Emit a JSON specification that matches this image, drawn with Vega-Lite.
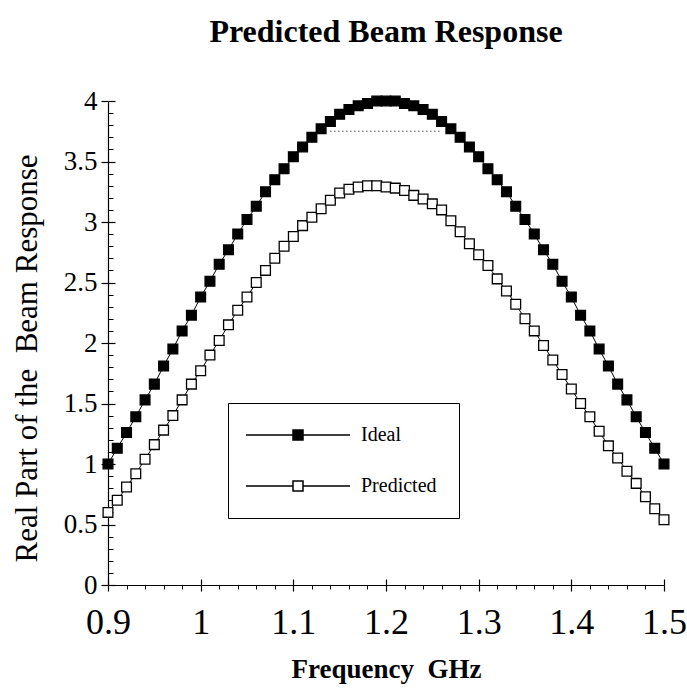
{
  "$schema": "https://vega.github.io/schema/vega-lite/v6.json",
  "width": 556,
  "height": 484,
  "autosize": "none",
  "padding": {"left": 108, "top": 101, "right": 23, "bottom": 108},
  "background": "white",
  "title": {"text": "Predicted Beam Response", "font": "Liberation Serif", "fontSize": 32, "fontWeight": "bold", "color": "black", "anchor": "middle", "offset": 38},
  "datasets": {
    "beam": [
      {"f":0.90,"v":1.00,"s":"Ideal"},{"f":0.91,"v":1.13,"s":"Ideal"},{"f":0.92,"v":1.26,"s":"Ideal"},{"f":0.93,"v":1.39,"s":"Ideal"},{"f":0.94,"v":1.53,"s":"Ideal"},
      {"f":0.95,"v":1.66,"s":"Ideal"},{"f":0.96,"v":1.81,"s":"Ideal"},{"f":0.97,"v":1.95,"s":"Ideal"},{"f":0.98,"v":2.10,"s":"Ideal"},{"f":0.99,"v":2.23,"s":"Ideal"},
      {"f":1.00,"v":2.38,"s":"Ideal"},{"f":1.01,"v":2.51,"s":"Ideal"},{"f":1.02,"v":2.65,"s":"Ideal"},{"f":1.03,"v":2.77,"s":"Ideal"},{"f":1.04,"v":2.90,"s":"Ideal"},
      {"f":1.05,"v":3.02,"s":"Ideal"},{"f":1.06,"v":3.13,"s":"Ideal"},{"f":1.07,"v":3.25,"s":"Ideal"},{"f":1.08,"v":3.35,"s":"Ideal"},{"f":1.09,"v":3.44,"s":"Ideal"},
      {"f":1.10,"v":3.54,"s":"Ideal"},{"f":1.11,"v":3.62,"s":"Ideal"},{"f":1.12,"v":3.70,"s":"Ideal"},{"f":1.13,"v":3.77,"s":"Ideal"},{"f":1.14,"v":3.83,"s":"Ideal"},
      {"f":1.15,"v":3.89,"s":"Ideal"},{"f":1.16,"v":3.93,"s":"Ideal"},{"f":1.17,"v":3.96,"s":"Ideal"},{"f":1.18,"v":3.98,"s":"Ideal"},{"f":1.19,"v":4.00,"s":"Ideal"},
      {"f":1.20,"v":4.00,"s":"Ideal"},{"f":1.21,"v":4.00,"s":"Ideal"},{"f":1.22,"v":3.98,"s":"Ideal"},{"f":1.23,"v":3.96,"s":"Ideal"},{"f":1.24,"v":3.93,"s":"Ideal"},
      {"f":1.25,"v":3.89,"s":"Ideal"},{"f":1.26,"v":3.83,"s":"Ideal"},{"f":1.27,"v":3.77,"s":"Ideal"},{"f":1.28,"v":3.70,"s":"Ideal"},{"f":1.29,"v":3.62,"s":"Ideal"},
      {"f":1.30,"v":3.54,"s":"Ideal"},{"f":1.31,"v":3.44,"s":"Ideal"},{"f":1.32,"v":3.35,"s":"Ideal"},{"f":1.33,"v":3.25,"s":"Ideal"},{"f":1.34,"v":3.13,"s":"Ideal"},
      {"f":1.35,"v":3.02,"s":"Ideal"},{"f":1.36,"v":2.90,"s":"Ideal"},{"f":1.37,"v":2.77,"s":"Ideal"},{"f":1.38,"v":2.65,"s":"Ideal"},{"f":1.39,"v":2.51,"s":"Ideal"},
      {"f":1.40,"v":2.38,"s":"Ideal"},{"f":1.41,"v":2.23,"s":"Ideal"},{"f":1.42,"v":2.10,"s":"Ideal"},{"f":1.43,"v":1.95,"s":"Ideal"},{"f":1.44,"v":1.81,"s":"Ideal"},
      {"f":1.45,"v":1.66,"s":"Ideal"},{"f":1.46,"v":1.53,"s":"Ideal"},{"f":1.47,"v":1.39,"s":"Ideal"},{"f":1.48,"v":1.26,"s":"Ideal"},{"f":1.49,"v":1.13,"s":"Ideal"},
      {"f":1.50,"v":1.00,"s":"Ideal"},
      {"f":0.90,"v":0.60,"s":"Predicted"},{"f":0.91,"v":0.70,"s":"Predicted"},{"f":0.92,"v":0.81,"s":"Predicted"},{"f":0.93,"v":0.92,"s":"Predicted"},{"f":0.94,"v":1.04,"s":"Predicted"},
      {"f":0.95,"v":1.16,"s":"Predicted"},{"f":0.96,"v":1.28,"s":"Predicted"},{"f":0.97,"v":1.40,"s":"Predicted"},{"f":0.98,"v":1.53,"s":"Predicted"},{"f":0.99,"v":1.66,"s":"Predicted"},
      {"f":1.00,"v":1.77,"s":"Predicted"},{"f":1.01,"v":1.90,"s":"Predicted"},{"f":1.02,"v":2.02,"s":"Predicted"},{"f":1.03,"v":2.15,"s":"Predicted"},{"f":1.04,"v":2.27,"s":"Predicted"},
      {"f":1.05,"v":2.38,"s":"Predicted"},{"f":1.06,"v":2.50,"s":"Predicted"},{"f":1.07,"v":2.60,"s":"Predicted"},{"f":1.08,"v":2.70,"s":"Predicted"},{"f":1.09,"v":2.80,"s":"Predicted"},
      {"f":1.10,"v":2.88,"s":"Predicted"},{"f":1.11,"v":2.97,"s":"Predicted"},{"f":1.12,"v":3.04,"s":"Predicted"},{"f":1.13,"v":3.11,"s":"Predicted"},{"f":1.14,"v":3.18,"s":"Predicted"},
      {"f":1.15,"v":3.24,"s":"Predicted"},{"f":1.16,"v":3.27,"s":"Predicted"},{"f":1.17,"v":3.29,"s":"Predicted"},{"f":1.18,"v":3.30,"s":"Predicted"},{"f":1.19,"v":3.30,"s":"Predicted"},
      {"f":1.20,"v":3.29,"s":"Predicted"},{"f":1.21,"v":3.28,"s":"Predicted"},{"f":1.22,"v":3.26,"s":"Predicted"},{"f":1.23,"v":3.22,"s":"Predicted"},{"f":1.24,"v":3.19,"s":"Predicted"},
      {"f":1.25,"v":3.15,"s":"Predicted"},{"f":1.26,"v":3.10,"s":"Predicted"},{"f":1.27,"v":3.01,"s":"Predicted"},{"f":1.28,"v":2.92,"s":"Predicted"},{"f":1.29,"v":2.82,"s":"Predicted"},
      {"f":1.30,"v":2.73,"s":"Predicted"},{"f":1.31,"v":2.64,"s":"Predicted"},{"f":1.32,"v":2.53,"s":"Predicted"},{"f":1.33,"v":2.43,"s":"Predicted"},{"f":1.34,"v":2.32,"s":"Predicted"},
      {"f":1.35,"v":2.20,"s":"Predicted"},{"f":1.36,"v":2.10,"s":"Predicted"},{"f":1.37,"v":1.98,"s":"Predicted"},{"f":1.38,"v":1.86,"s":"Predicted"},{"f":1.39,"v":1.74,"s":"Predicted"},
      {"f":1.40,"v":1.62,"s":"Predicted"},{"f":1.41,"v":1.50,"s":"Predicted"},{"f":1.42,"v":1.39,"s":"Predicted"},{"f":1.43,"v":1.27,"s":"Predicted"},{"f":1.44,"v":1.15,"s":"Predicted"},
      {"f":1.45,"v":1.05,"s":"Predicted"},{"f":1.46,"v":0.94,"s":"Predicted"},{"f":1.47,"v":0.84,"s":"Predicted"},{"f":1.48,"v":0.73,"s":"Predicted"},{"f":1.49,"v":0.63,"s":"Predicted"},
      {"f":1.50,"v":0.54,"s":"Predicted"}
    ],
    "dotted": [{"f1": 1.14, "f2": 1.26, "y": 3.75}]
  },
  "layer": [
    {
      "data": {"name": "beam"},
      "mark": {"type": "line", "color": "black", "strokeWidth": 1},
      "encoding": {
        "x": {"field": "f", "type": "quantitative", "scale": {"domain": [0.9, 1.5], "nice": false, "zero": false},
          "axis": {"orient": "bottom", "values": [0.9, 1.0, 1.1, 1.2, 1.3, 1.4, 1.5], "format": ".1~f", "labelFlush": false, "labelOverlap": false, "tickSize": 6, "tickWidth": 1.2, "domainWidth": 1.2, "labelFontSize": 36, "labelPadding": 14, "title": "Frequency\u00a0\u00a0GHz", "titleFontSize": 27, "titleFontWeight": "bold", "titlePadding": 16}},
        "y": {"field": "v", "type": "quantitative", "scale": {"domain": [0, 4], "nice": false},
          "axis": {"orient": "left", "values": [0, 0.5, 1, 1.5, 2, 2.5, 3, 3.5, 4], "format": ".1~f", "labelFlush": false, "tickSize": 7, "tickWidth": 1.2, "domainWidth": 1.2, "labelFontSize": 27, "labelPadding": 4, "title": "Real Part of the\u00a0\u00a0Beam Response", "titleFontSize": 31, "titleFontWeight": "normal", "titlePadding": 20, "titleY": 257}},
        "detail": {"field": "s"}
      }
    },
    {
      "data": {"name": "beam"},
      "mark": {"type": "point", "shape": "square", "filled": true, "size": 95, "stroke": "black", "strokeWidth": 1.3, "opacity": 1},
      "encoding": {
        "x": {"field": "f", "type": "quantitative",
          "axis": {"orient": "bottom", "values": [0.9, 1.0, 1.1, 1.2, 1.3, 1.4, 1.5], "tickSize": -6, "tickWidth": 1.2, "labels": false, "domain": false, "title": null}},
        "y": {"field": "v", "type": "quantitative",
          "axis": {"orient": "left", "values": [0, 0.5, 1, 1.5, 2, 2.5, 3, 3.5, 4], "tickSize": -7, "tickWidth": 1.2, "labels": false, "domain": false, "title": null}},
        "fill": {"field": "s", "type": "nominal", "scale": {"domain": ["Ideal", "Predicted"], "range": ["black", "white"]},
          "legend": {"title": null, "orient": "none", "legendX": 120, "legendY": 302, "padding": 22, "strokeColor": "black", "fillColor": "white",
            "symbolType": "M-10.4,0H-1M1,0H10.4M-1,-1H1V1H-1Z", "symbolSize": 100, "symbolOffset": 38, "labelOffset": 53, "rowPadding": 31,
            "labelFont": "Liberation Serif", "labelFontSize": 20, "labelColor": "black",
            "encode": {"symbols": {"update": {"stroke": {"value": "black"}, "strokeWidth": {"value": 1.2}, "opacity": {"value": 1}}},
                       "labels": {"update": {"font": {"value": "Liberation Serif"}, "fontSize": {"value": 20}, "fill": {"value": "black"}}}}}}
      }
    },
    {
      "data": {"name": "dotted"},
      "mark": {"type": "rule", "color": "black", "strokeWidth": 1, "strokeDash": [1, 3]},
      "encoding": {
        "x": {"field": "f1", "type": "quantitative",
          "axis": {"orient": "bottom", "values": [0.92, 0.94, 0.96, 0.98, 1.02, 1.04, 1.06, 1.08, 1.12, 1.14, 1.16, 1.18, 1.22, 1.24, 1.26, 1.28, 1.32, 1.34, 1.36, 1.38, 1.42, 1.44, 1.46, 1.48], "tickSize": 4, "tickWidth": 1, "labels": false, "domain": false, "title": null}},
        "x2": {"field": "f2"},
        "y": {"field": "y", "type": "quantitative",
          "axis": {"orient": "left", "values": [0.1, 0.2, 0.3, 0.4, 0.6, 0.7, 0.8, 0.9, 1.1, 1.2, 1.3, 1.4, 1.6, 1.7, 1.8, 1.9, 2.1, 2.2, 2.3, 2.4, 2.6, 2.7, 2.8, 2.9, 3.1, 3.2, 3.3, 3.4, 3.6, 3.7, 3.8, 3.9], "tickSize": -5, "tickWidth": 1, "labels": false, "domain": false, "title": null}}
      }
    }
  ],
  "resolve": {"axis": {"x": "independent", "y": "independent"}},
  "config": {
    "font": "Liberation Serif",
    "view": {"stroke": null},
    "legend": {"labelFont": "Liberation Serif", "labelFontSize": 20, "labelColor": "black"},
    "axis": {"grid": false, "domainColor": "black", "tickColor": "black", "labelColor": "black", "titleColor": "black", "labelFont": "Liberation Serif", "titleFont": "Liberation Serif"}
  }
}
